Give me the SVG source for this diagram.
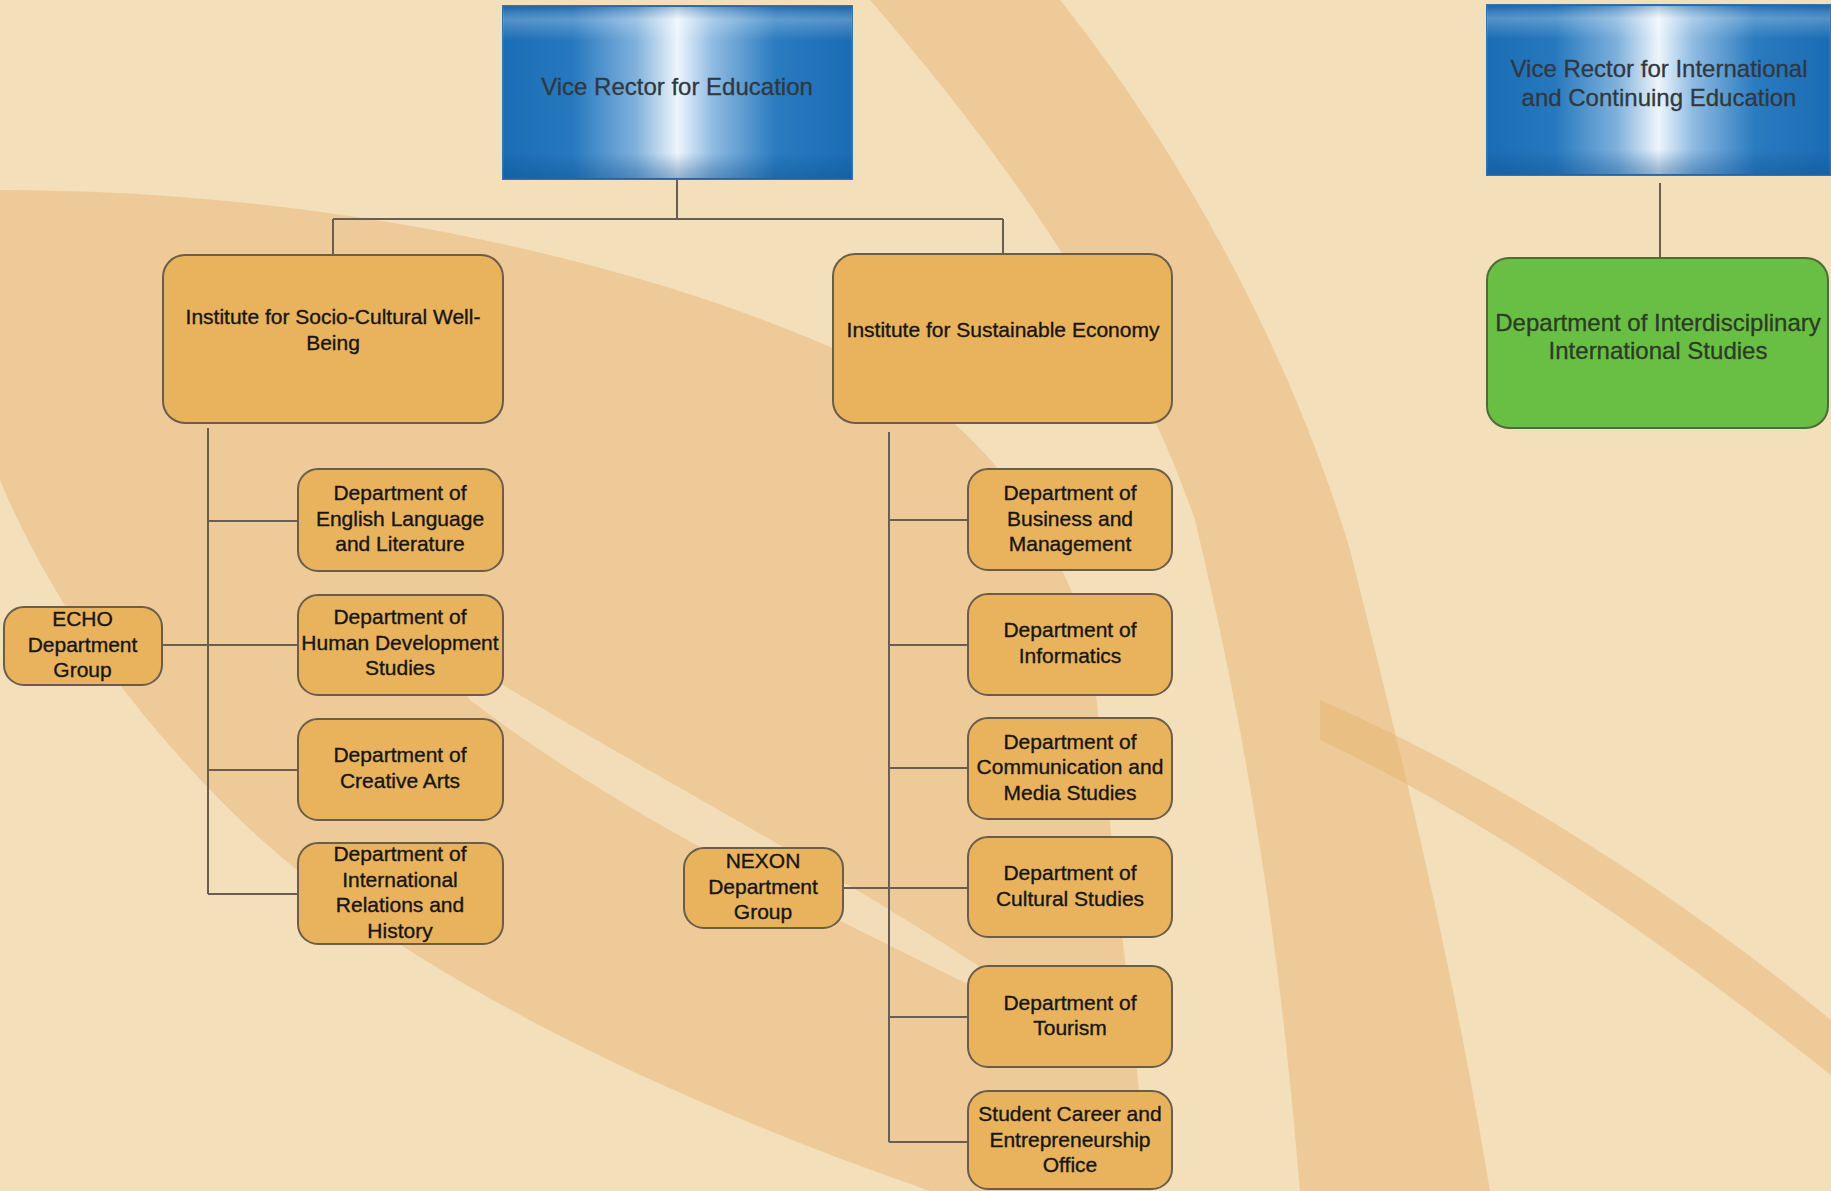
<svg xmlns="http://www.w3.org/2000/svg" width="1831" height="1191" viewBox="0 0 1831 1191">
<defs>
<linearGradient id="blueH" x1="0" y1="0" x2="1" y2="0">
<stop offset="0" stop-color="#1a6cb4"/>
<stop offset="0.2" stop-color="#2779bf"/>
<stop offset="0.38" stop-color="#7fb1dc"/>
<stop offset="0.5" stop-color="#eef5fb"/>
<stop offset="0.6" stop-color="#8fbbe2"/>
<stop offset="0.78" stop-color="#2a7bc0"/>
<stop offset="1" stop-color="#1a6cb4"/>
</linearGradient>
<linearGradient id="blueV" x1="0" y1="0" x2="0" y2="1">
<stop offset="0" stop-color="#0d4f8f" stop-opacity="0.35"/>
<stop offset="0.08" stop-color="#ffffff" stop-opacity="0.25"/>
<stop offset="0.2" stop-color="#ffffff" stop-opacity="0"/>
<stop offset="0.85" stop-color="#0d4f8f" stop-opacity="0"/>
<stop offset="0.95" stop-color="#0d4f8f" stop-opacity="0.3"/>
<stop offset="1" stop-color="#0d4f8f" stop-opacity="0.4"/>
</linearGradient>
<style>
.org{fill:#e9b35d;stroke:#6a5d4c;stroke-width:2}
.grn{fill:#69bf44;stroke:#4f6a3b;stroke-width:2}
.blu{fill:url(#blueH);stroke:#2f74b6;stroke-width:2}
.bluv{fill:url(#blueV)}
.t{font-family:"Liberation Sans",Arial,sans-serif;font-size:21px;fill:#161616;stroke:#161616;stroke-width:0.35;text-anchor:middle}
.tb{font-family:"Liberation Sans",Arial,sans-serif;font-size:24px;fill:#30383f;stroke:#30383f;stroke-width:0.3;text-anchor:middle}
.tg{font-family:"Liberation Sans",Arial,sans-serif;font-size:24px;fill:#2c3a26;stroke:#2c3a26;stroke-width:0.3;text-anchor:middle}
.ln{stroke:#6a5e52;stroke-width:2;fill:none}
.bg1{fill:#e6b16c;opacity:0.45}
.bg2{fill:#f7e9cf;opacity:0.6}
</style>
</defs>

<g id="background">
<rect x="0" y="0" width="1831" height="1191" fill="#f3dfba"/>
<path class="bg1" d="M0 190 C300 190 620 250 860 360 C980 420 1050 520 1090 640 L1150 1191 L930 1191 C640 1090 380 960 230 810 C130 710 50 600 0 480 Z"/>
<path class="bg2" d="M430 640 C620 760 820 860 1000 980 L1060 1030 C860 930 640 830 470 700 Z"/>
<path class="bg1" d="M870 0 L1060 0 C1180 150 1290 350 1350 550 C1400 750 1450 950 1490 1191 L1300 1191 C1280 950 1250 750 1195 520 C1130 330 1000 150 870 0 Z"/>
<path class="bg1" d="M1320 700 C1480 770 1660 880 1831 1020 L1831 1075 C1660 940 1490 820 1320 740 Z" opacity="0.3"/>
</g>

<g id="connectors">
<path class="ln" d="M677 179 V219 M333 219 H1003 M333 219 V255 M1003 219 V254"/>
<path class="ln" d="M208 428 V894 M208 521 H297 M162 645 H297 M208 770 H297 M208 894 H297"/>
<path class="ln" d="M889 432 V1142 M889 520 H968 M889 645 H968 M889 768 H968 M843 888 H968 M889 1017 H968 M889 1142 H968"/>
<path class="ln" d="M1660 183 V257" stroke-width="1.5"/>
</g>

<g id="vr-education">
<rect class="blu" x="503" y="6" width="349" height="173"/>
<rect class="bluv" x="503" y="6" width="349" height="173"/>
<text class="tb" x="677" y="95">Vice Rector for Education</text>
</g>

<g id="vr-international">
<rect class="blu" x="1487" y="5" width="343" height="170"/>
<rect class="bluv" x="1487" y="5" width="343" height="170"/>
<text class="tb" x="1659" y="77">Vice Rector for International</text>
<text class="tb" x="1659" y="106">and Continuing Education</text>
</g>

<g id="dept-interdisciplinary">
<rect class="grn" x="1487" y="258" width="341" height="170" rx="22"/>
<text class="tg" x="1658" y="331">Department of Interdisciplinary</text>
<text class="tg" x="1658" y="359">International Studies</text>
</g>

<g id="inst-socio">
<rect class="org" x="163" y="255" width="340" height="168" rx="22"/>
<text class="t" x="333" y="324">Institute for Socio-Cultural Well-</text>
<text class="t" x="333" y="350">Being</text>
</g>

<g id="inst-sustainable">
<rect class="org" x="833" y="254" width="339" height="169" rx="22"/>
<text class="t" x="1003" y="337">Institute for Sustainable Economy</text>
</g>

<g id="dept-english">
<rect class="org" x="298" y="469" width="205" height="102" rx="20"/>
<text class="t" x="400" y="500">Department of</text>
<text class="t" x="400" y="525.5">English Language</text>
<text class="t" x="400" y="551">and Literature</text>
</g>

<g id="dept-human">
<rect class="org" x="298" y="595" width="205" height="100" rx="20"/>
<text class="t" x="400" y="624">Department of</text>
<text class="t" x="400" y="649.5">Human Development</text>
<text class="t" x="400" y="675">Studies</text>
</g>

<g id="dept-creative">
<rect class="org" x="298" y="719" width="205" height="101" rx="20"/>
<text class="t" x="400" y="762">Department of</text>
<text class="t" x="400" y="787.5">Creative Arts</text>
</g>

<g id="dept-intrel">
<rect class="org" x="298" y="843" width="205" height="101" rx="20"/>
<text class="t" x="400" y="861">Department of</text>
<text class="t" x="400" y="886.5">International</text>
<text class="t" x="400" y="912">Relations and</text>
<text class="t" x="400" y="937.5">History</text>
</g>

<g id="echo">
<rect class="org" x="4" y="607" width="158" height="78" rx="20"/>
<text class="t" x="82.5" y="626">ECHO</text>
<text class="t" x="82.5" y="651.5">Department</text>
<text class="t" x="82.5" y="677">Group</text>
</g>

<g id="nexon">
<rect class="org" x="684" y="848" width="159" height="80" rx="20"/>
<text class="t" x="763" y="868">NEXON</text>
<text class="t" x="763" y="893.5">Department</text>
<text class="t" x="763" y="919">Group</text>
</g>

<g id="dept-business">
<rect class="org" x="968" y="469" width="204" height="101" rx="20"/>
<text class="t" x="1070" y="500">Department of</text>
<text class="t" x="1070" y="525.5">Business and</text>
<text class="t" x="1070" y="551">Management</text>
</g>

<g id="dept-informatics">
<rect class="org" x="968" y="594" width="204" height="101" rx="20"/>
<text class="t" x="1070" y="637">Department of</text>
<text class="t" x="1070" y="662.5">Informatics</text>
</g>

<g id="dept-communication">
<rect class="org" x="968" y="718" width="204" height="101" rx="20"/>
<text class="t" x="1070" y="748.5">Department of</text>
<text class="t" x="1070" y="774">Communication and</text>
<text class="t" x="1070" y="799.5">Media Studies</text>
</g>

<g id="dept-cultural">
<rect class="org" x="968" y="837" width="204" height="100" rx="20"/>
<text class="t" x="1070" y="880">Department of</text>
<text class="t" x="1070" y="905.5">Cultural Studies</text>
</g>

<g id="dept-tourism">
<rect class="org" x="968" y="966" width="204" height="101" rx="20"/>
<text class="t" x="1070" y="1009.5">Department of</text>
<text class="t" x="1070" y="1035">Tourism</text>
</g>

<g id="student-career">
<rect class="org" x="968" y="1091" width="204" height="98" rx="20"/>
<text class="t" x="1070" y="1121">Student Career and</text>
<text class="t" x="1070" y="1146.5">Entrepreneurship</text>
<text class="t" x="1070" y="1172">Office</text>
</g>
</svg>
